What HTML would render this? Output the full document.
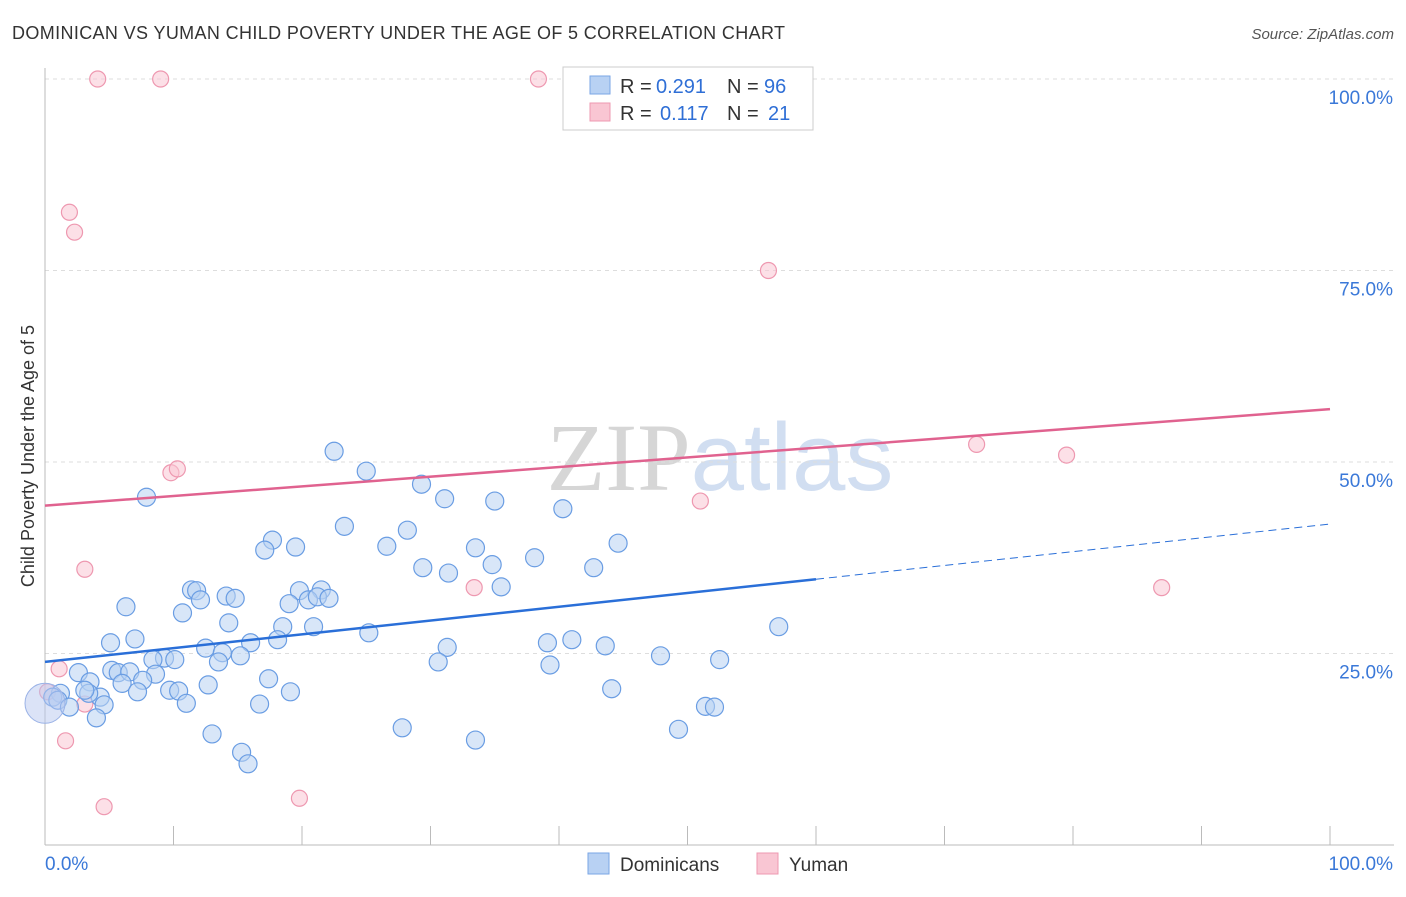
<!DOCTYPE html>
<html><head><meta charset="utf-8"><style>
body{margin:0;background:#fff;font-family:"Liberation Sans",sans-serif;}
svg text{font-family:"Liberation Sans",sans-serif;}
</style></head><body>
<svg id="chart" width="1406" height="892" xmlns="http://www.w3.org/2000/svg">
<text x="12" y="39" font-size="18" fill="#333" textLength="773">DOMINICAN VS YUMAN CHILD POVERTY UNDER THE AGE OF 5 CORRELATION CHART</text>
<text x="1394" y="39" font-size="15" fill="#555" text-anchor="end" font-style="italic">Source: ZipAtlas.com</text>
<text x="720" y="490" font-size="96" text-anchor="middle" fill="#ddd" opacity="0.8"><tspan font-family="Liberation Serif" fill="#ccc">ZIP</tspan><tspan fill="#c6d6ee">atlas</tspan></text>
<g id="grid"></g>
<g id="axes"></g>
<g id="marks"></g>
<text transform="translate(34,456) rotate(-90)" font-size="18" fill="#333" text-anchor="middle">Child Poverty Under the Age of 5</text>
<g>
<rect x="563" y="67" width="250" height="63" fill="#fff" stroke="#ccc"/>
<rect x="590" y="76" width="20" height="18" fill="#b8d1f3" stroke="#7aa6e6"/>
<rect x="590" y="103" width="20" height="18" fill="#f9c6d3" stroke="#ee98b0"/>
<text x="620" y="93" font-size="20" fill="#333">R =</text>
<text x="656" y="93" font-size="20" fill="#2f6fd6">0.291</text>
<text x="727" y="93" font-size="20" fill="#333">N =</text>
<text x="764" y="93" font-size="20" fill="#2f6fd6">96</text>
<text x="620" y="120" font-size="20" fill="#333">R =</text>
<text x="660" y="120" font-size="20" fill="#2f6fd6">0.117</text>
<text x="727" y="120" font-size="20" fill="#333">N =</text>
<text x="768" y="120" font-size="20" fill="#2f6fd6">21</text>
</g>
<g>
<rect x="588" y="853" width="21" height="21" fill="#b8d1f3" stroke="#7aa6e6"/>
<text x="620" y="871" font-size="19" fill="#333">Dominicans</text>
<rect x="757" y="853" width="21" height="21" fill="#f9c6d3" stroke="#ee98b0"/>
<text x="789" y="871" font-size="19" fill="#333">Yuman</text>
</g>
</svg>
<script>
const blueX=[7.9,22.5,25.0,29.3,31.1,35.0,40.3,23.3,28.2,26.6,33.5,38.1,44.6,17.7,17.1,19.5,29.4,31.4,34.8,42.7,35.5,11.4,11.8,12.1,14.1,14.8,19.8,21.5,20.5,19.0,21.2,22.1,6.3,10.7,14.3,18.5,20.9,25.2,7.0,5.1,12.5,13.8,16.0,18.1,31.3,39.1,41.0,43.6,57.1,47.9,52.5,30.6,39.3,15.2,13.5,9.3,8.4,10.1,5.2,5.7,6.6,8.6,2.6,3.5,6.0,7.6,12.7,17.4,9.7,10.4,7.2,4.3,3.4,3.1,1.2,0.6,1.0,1.9,4.6,11.0,16.7,19.1,44.1,4.0,51.4,52.1,27.8,49.3,13.0,15.3,15.8,33.5];
const blueY=[45.4,51.4,48.8,47.1,45.2,44.9,43.9,41.6,41.1,39.0,38.8,37.5,39.4,39.8,38.5,38.9,36.2,35.5,36.6,36.2,33.7,33.3,33.2,32.0,32.5,32.2,33.2,33.3,32.0,31.5,32.4,32.2,31.1,30.3,29.0,28.5,28.5,27.7,26.9,26.4,25.7,25.1,26.4,26.8,25.8,26.4,26.8,26.0,28.5,24.7,24.2,23.9,23.5,24.7,23.9,24.4,24.2,24.2,22.8,22.5,22.6,22.3,22.5,21.3,21.1,21.5,20.9,21.7,20.2,20.1,20.0,19.3,19.8,20.2,19.8,19.3,18.9,18.0,18.3,18.5,18.4,20.0,20.4,16.6,18.1,18.0,15.3,15.1,14.5,12.1,10.6,13.7];
const pinkX=[4.1,9.0,38.4,1.9,2.3,56.3,9.8,10.3,72.5,79.5,51.0,3.1,33.4,86.9,1.1,0.2,3.1,1.6,4.6,19.8];
const pinkY=[100,100,100,82.6,80.0,75.0,48.6,49.1,52.3,50.9,44.9,36.0,33.6,33.6,23.0,20.0,18.4,13.6,5.0,6.1];
const blueTrend=[23.9,41.9];const blueSolidEnd=60;
const pinkTrend=[44.3,56.9];
const yTicks=[25,50,75,100];const yTickLabels=["25.0%","50.0%","75.0%","100.0%"];
const NS="http://www.w3.org/2000/svg";
const sx=v=>45+v*12.85, sy=v=>845-v*7.66;
function mk(tag,attrs,parent){const e=document.createElementNS(NS,tag);for(const k in attrs)e.setAttribute(k,attrs[k]);parent.appendChild(e);return e;}
const grid=document.getElementById('grid'),axes=document.getElementById('axes'),marks=document.getElementById('marks');
yTicks.forEach((t,i)=>{const l=mk('line',{x1:45,x2:1394,y1:sy(t),y2:sy(t),stroke:'#ddd','stroke-dasharray':'4,4'},grid);


const tx=mk('text',{x:1393,y:sy(t)+25,'font-size':19,fill:'#3a78d8','text-anchor':'end'},axes);tx.textContent=yTickLabels[i];

});
mk('line',{x1:45,x2:45,y1:68,y2:845,stroke:'#bbb'},axes);
mk('line',{x1:45,x2:1394,y1:845,y2:845,stroke:'#bbb'},axes);
for(let i=0;i<=10;i++){const t=mk('line',{x1:sx(i*10),x2:sx(i*10),y1:826,y2:845,stroke:'#bbb'},axes);

}
let a=mk('text',{x:45,y:870,'font-size':19,fill:'#3a78d8'},axes);a.textContent='0.0%';


a=mk('text',{x:1393,y:870,'font-size':19,fill:'#3a78d8','text-anchor':'end'},axes);a.textContent='100.0%';


pinkX.forEach((x,i)=>{const c=mk('circle',{cx:sx(x),cy:sy(pinkY[i]),r:8,fill:'#f9c6d3','fill-opacity':0.55,stroke:'#ee98b0','stroke-width':1.2},marks);

});
blueX.forEach((x,i)=>{const c=mk('circle',{cx:sx(x),cy:sy(blueY[i]),r:9,fill:'#b8d1f3','fill-opacity':0.55,stroke:'#6a9de3','stroke-width':1.2},marks);

});
const big=mk('circle',{cx:sx(0),cy:sy(18.5),r:20,fill:'#b8c8ef','fill-opacity':0.5,stroke:'#9ab2e6'},marks);


const bAt=x=>blueTrend[0]+(blueTrend[1]-blueTrend[0])*x/100;
let l=mk('line',{x1:sx(0),y1:sy(bAt(0)),x2:sx(blueSolidEnd),y2:sy(bAt(blueSolidEnd)),stroke:'#2a6fd8','stroke-width':2.5},marks);


l=mk('line',{x1:sx(blueSolidEnd),y1:sy(bAt(blueSolidEnd)),x2:sx(100),y2:sy(bAt(100)),stroke:'#2a6fd8','stroke-width':1,'stroke-dasharray':'8,5'},marks);


l=mk('line',{x1:sx(0),y1:sy(pinkTrend[0]),x2:sx(100),y2:sy(pinkTrend[1]),stroke:'#e0628f','stroke-width':2.5},marks);


</script>
</body></html>
